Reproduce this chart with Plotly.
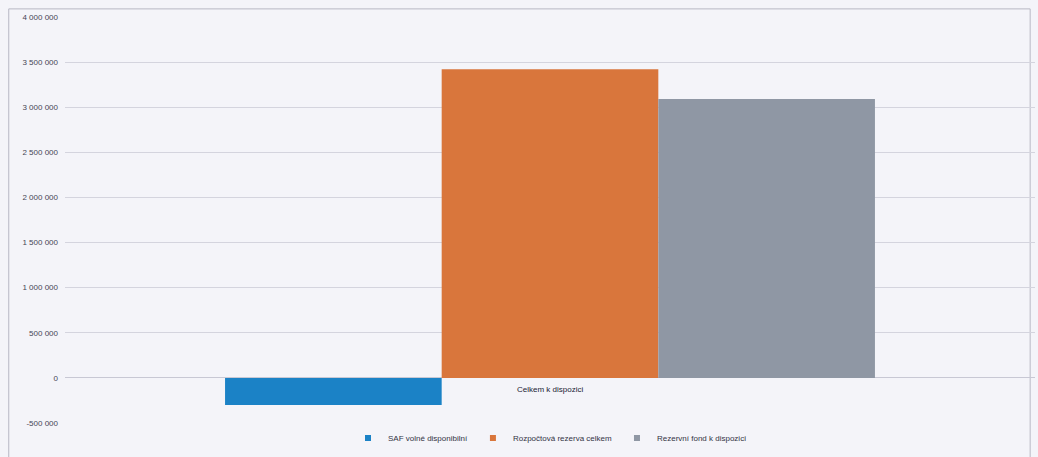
import plotly.graph_objects as go

categories = ["Celkem k dispozici"]
series_names = ["SAF volné disponibilní", "Rozpočtová rezerva celkem", "Rezervní fond k dispozici"]
series_values = [[-300000], [3420000], [3090000]]
series_colors = ["#1b82c6", "#d9763c", "#8f97a4"]
tick_vals = [-500000, 0, 500000, 1000000, 1500000, 2000000, 2500000, 3000000, 3500000, 4000000]
tick_text = ["-500 000", "0", "500 000", "1 000 000", "1 500 000", "2 000 000",
             "2 500 000", "3 000 000", "3 500 000", "4 000 000"]

fig = go.Figure()
for name, vals, col in zip(series_names, series_values, series_colors):
    fig.add_trace(go.Bar(x=categories, y=vals, name=name, marker_color=col,
                         marker_line_width=0, showlegend=False))
# legend entries with small square markers
for name, col in zip(series_names, series_colors):
    fig.add_trace(go.Scatter(x=[None], y=[None], mode="markers", name=name,
                             marker=dict(symbol="square", size=6, color=col)))

fig.add_annotation(x=categories[0], y=0, text=categories[0], showarrow=False,
                   yanchor="top", yshift=-5, xshift=0,
                   font=dict(size=8, color="#222233", family="Liberation Sans"))

fig.add_shape(type="rect", xref="paper", yref="paper", x0=-0.058, x1=0.995,
              y0=-0.09, y1=1.02, line=dict(color="#b8b8c4", width=1),
              fillcolor="rgba(0,0,0,0)", layer="below")

fig.update_layout(
    width=1038, height=457,
    margin=dict(l=65, r=3, t=17, b=34),
    paper_bgcolor="#f4f4f9", plot_bgcolor="#f4f4f9",
    barmode="group", bargap=0.33, bargroupgap=0,
    font=dict(family="Liberation Sans", size=8, color="#444455"),
    showlegend=True,
    legend=dict(orientation="h", x=0.5, xanchor="center", y=-0.037, yanchor="middle",
                font=dict(size=8, color="#333344"), itemwidth=30,
                bgcolor="rgba(0,0,0,0)"),
    xaxis=dict(showticklabels=False, showgrid=False, zeroline=False,
               showline=False, ticks=""),
    yaxis=dict(range=[-500000, 4000000], tickvals=tick_vals, ticktext=tick_text,
               showgrid=True, gridcolor="#d4d4de", gridwidth=1,
               zeroline=True, zerolinecolor="#c8c8d4", zerolinewidth=1,
               showline=False, ticks="", tickfont=dict(size=8, color="#444455"),
               ticklabelstandoff=6),
)

fig.write_html("out.html")
